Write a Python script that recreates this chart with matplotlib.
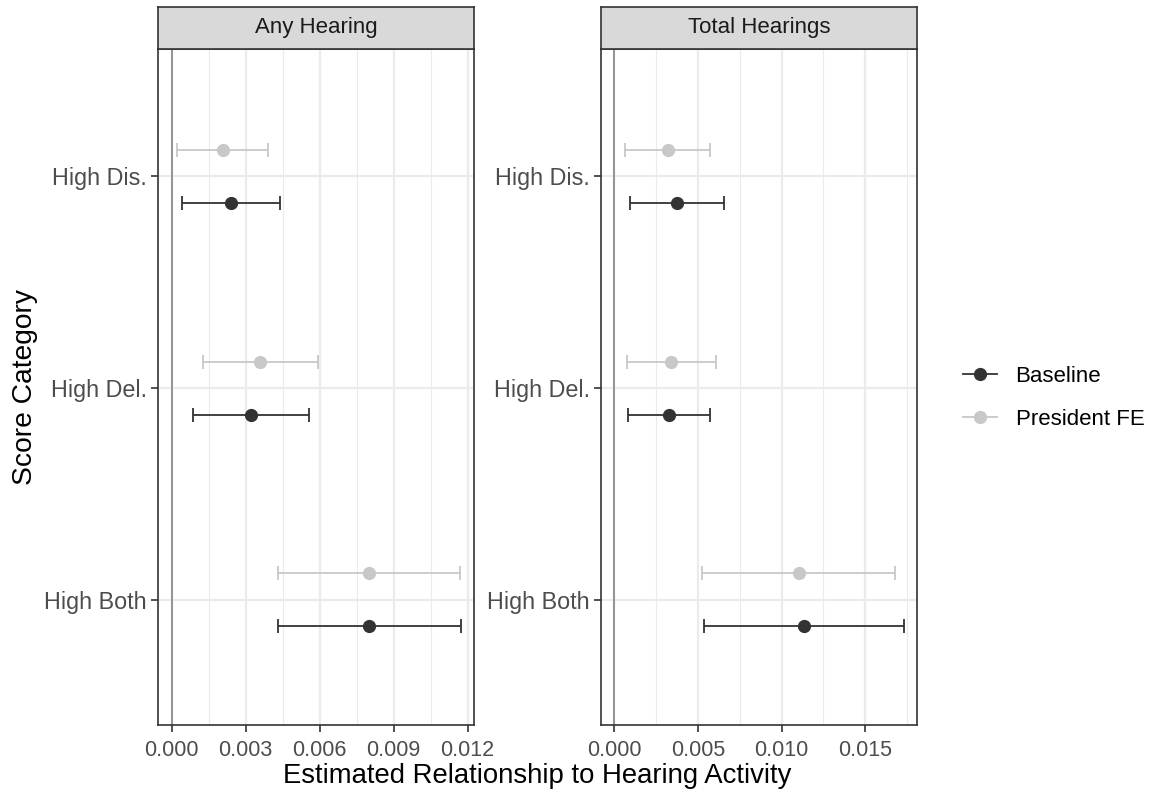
import numpy as np
import matplotlib.pyplot as plt
from matplotlib.ticker import MultipleLocator, FormatStrFormatter
from matplotlib.lines import Line2D

plt.rcParams['font.family'] = ['Liberation Sans', 'DejaVu Sans']

# categories, bottom to top
categories = ['High Both', 'High Del.', 'High Dis.']
panels = ['Any Hearing', 'Total Hearings']

# Any Hearing
any_base = [0.00799, 0.00321, 0.00239]
any_base_lo = [0.00430, 0.00088, 0.00043]
any_base_hi = [0.01172, 0.00557, 0.00438]
any_pfe = [0.00799, 0.00359, 0.00207]
any_pfe_lo = [0.00432, 0.00126, 0.00023]
any_pfe_hi = [0.01169, 0.00594, 0.00392]

# Total Hearings
tot_base = [0.01134, 0.00328, 0.00374]
tot_base_lo = [0.00534, 0.00084, 0.00092]
tot_base_hi = [0.01730, 0.00572, 0.00656]
tot_pfe = [0.01104, 0.00340, 0.00318]
tot_pfe_lo = [0.00524, 0.00074, 0.00062]
tot_pfe_hi = [0.01680, 0.00606, 0.00574]

data = {
    'Any Hearing': [(any_base, any_base_lo, any_base_hi), (any_pfe, any_pfe_lo, any_pfe_hi)],
    'Total Hearings': [(tot_base, tot_base_lo, tot_base_hi), (tot_pfe, tot_pfe_lo, tot_pfe_hi)],
}
series_names = ['Baseline', 'President FE']
colors = ['#333333', '#c8c8c8']
offsets = [-0.125, 0.125]

xlims = {'Any Hearing': (-0.000555, 0.01226), 'Total Hearings': (-0.0008, 0.0181)}
major = {'Any Hearing': 0.003, 'Total Hearings': 0.005}

fig = plt.figure(figsize=(11.51, 7.96), dpi=100)
lefts = [158/1151, 601/1151]
w = 316/1151
bottom = 1 - 725/796
h = 676/796
strip_h = 42/796

for i, name in enumerate(panels):
    ax = fig.add_axes([lefts[i], bottom, w, h])
    y = np.arange(1, len(categories) + 1)
    ax.axvline(0, color='#8c8c8c', lw=1.3, zorder=1)
    for (vals, lo, hi), c, off in zip(data[name], colors, offsets):
        vals = np.array(vals)
        err = [vals - np.array(lo), np.array(hi) - vals]
        ax.errorbar(vals, y + off, xerr=err, fmt='o', color=c, ms=8.5,
                    elinewidth=1.3, capsize=5, capthick=1.3, zorder=3)
    ax.set_xlim(*xlims[name])
    ax.set_ylim(0.41, 3.6)
    ax.xaxis.set_major_locator(MultipleLocator(major[name]))
    ax.xaxis.set_minor_locator(MultipleLocator(major[name] / 2))
    ax.xaxis.set_major_formatter(FormatStrFormatter('%.3f'))
    ax.set_yticks(y)
    ax.set_yticklabels(categories)
    ax.grid(which='major', color='#ebebeb', lw=1.6, zorder=0)
    ax.grid(which='minor', axis='x', color='#ebebeb', lw=0.8, zorder=0)
    ax.set_axisbelow(True)
    ax.tick_params(which='major', length=5, width=1.2, color='#333333',
                   labelcolor='#4d4d4d')
    ax.tick_params(axis='x', labelsize=15.5, pad=6)
    ax.tick_params(axis='y', labelsize=16.8, pad=3)
    ax.tick_params(which='minor', length=0)
    for s in ax.spines.values():
        s.set_color('#333333')
        s.set_linewidth(1.2)

    sax = fig.add_axes([lefts[i], bottom + h, w, strip_h])
    sax.set_facecolor('#d9d9d9')
    sax.set_xticks([])
    sax.set_yticks([])
    for s in sax.spines.values():
        s.set_color('#333333')
        s.set_linewidth(1.2)
    sax.text(0.5, 0.5, name, ha='center', va='center', fontsize=16, color='#1a1a1a',
             transform=sax.transAxes)

fig.text(537/1151, 1 - 783/796, 'Estimated Relationship to Hearing Activity', ha='center',
         va='baseline', fontsize=19.8)
fig.text(25/1151, 1 - 387/796, 'Score Category', ha='center', va='center', rotation=90,
         fontsize=20.3)

handles = [Line2D([], [], color=c, marker='o', ms=8.5, lw=1.3) for c in colors]
fig.legend(handles, series_names, loc='center left', bbox_to_anchor=(0.819, 0.5),
           frameon=False, fontsize=16, handlelength=1.53, labelspacing=1.0,
           handletextpad=0.85)

fig.savefig('out.png', dpi=100)
